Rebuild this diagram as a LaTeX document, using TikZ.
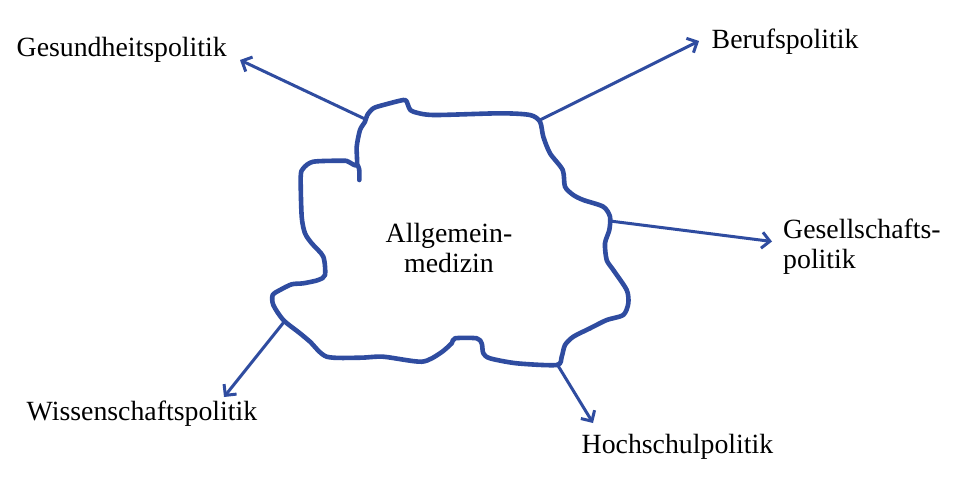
\documentclass[tikz,border=0pt]{standalone}
\usepackage{fontspec}
\setmainfont{Liberation Serif}
\usetikzlibrary{arrows.meta}
\definecolor{lineblue}{RGB}{47,76,160}
\tikzset{
  outline/.style={draw=lineblue, line width=4.6pt, line join=round, line cap=round},
  link/.style={draw=lineblue, line width=3pt, -{Straight Barb[length=8pt,width=16pt,line width=3pt]}},
  label/.style={font=\fontsize{27.8}{30}\selectfont, inner sep=0pt, anchor=base west, text=black},
}
\begin{document}
\begin{tikzpicture}[x=1pt,y=-1pt]
\useasboundingbox (0,0) rectangle (960,483);
\fill[white] (0,0) rectangle (960,483);
% wobbly outline
\draw[outline] plot[smooth cycle, tension=0.45] coordinates {
 (356.7,165) (348.3,161.7) (343.3,160.7) (313.3,161.7) (303.3,168.3) (300.7,176.7)
 (301.7,216.7) (305,233.3) (311.7,243.3) (323.3,256.7) (325,275) (318.3,280)
 (303.3,283.3) (291.7,284.3) (280,290) (272.7,295) (273.3,305) (283.3,320)
 (300,333.3) (310,341.7) (326.7,356.7) (360,357.7) (383.3,356.7) (421.7,361.7)
 (440,353.3) (451.7,343.3) (455,338.3) (476.7,338.3) (481.7,343.3) (483.3,353.3)
 (490,358.3) (516.7,363.3) (556.7,365) (561.7,356.7) (565,345) (573.3,336.7)
 (590,328.3) (606.7,320) (623.3,315) (628.3,303.3) (626.7,290) (613.3,270)
 (606.7,260) (605,243.3) (609.3,230) (610,216.7) (603.3,206.7) (583.3,200)
 (573.3,195) (565,186.7) (562.7,170) (550,153.3) (543.3,136.7) (540,121.7)
 (530,115) (500,113.3) (433.3,115) (413.3,111.7) (409.3,108.3) (406.7,101.7)
 (403.3,100) (383.3,105) (373.3,108.3) (367.3,115) (365,121.7) (360,130)
 (356.7,146.7)
};
\draw[outline] (356.7,164) .. controls (359.5,168) .. (359.3,180);
% anchor points on the outline
\coordinate (pGes) at (365,119);
\coordinate (pBer) at (540,120);
\coordinate (pGsl) at (610,221);
\coordinate (pWis) at (284,322);
\coordinate (pHoc) at (557,364);
% arrow tips
\coordinate (tGes) at (240,60);
\coordinate (tBer) at (699,41);
\coordinate (tGsl) at (772,241.5);
\coordinate (tWis) at (224,397);
\coordinate (tHoc) at (593,423);
% labels
\node[label] (ges) at (16.5,56.5) {Gesundheitspolitik};
\node[label] (ber) at (711.5,48.5) {Berufspolitik};
\node[label, align=left, anchor=north west] (gsl) at (783,219) {Gesellschafts-\\politik};
\node[label] (wis) at (26.5,420) {Wissenschaftspolitik};
\node[label] (hoc) at (581.5,453.5) {Hochschulpolitik};
\node[font=\fontsize{27.8}{30}\selectfont, align=center, inner sep=0pt, anchor=north] (center) at (449,223) {Allgemein-\\medizin};
% connectors
\draw[link] (pGes) -- (tGes);
\draw[link] (pBer) -- (tBer);
\draw[link] (pGsl) -- (tGsl);
\draw[link] (pWis) -- (tWis);
\draw[link] (pHoc) -- (tHoc);
\end{tikzpicture}
\end{document}
